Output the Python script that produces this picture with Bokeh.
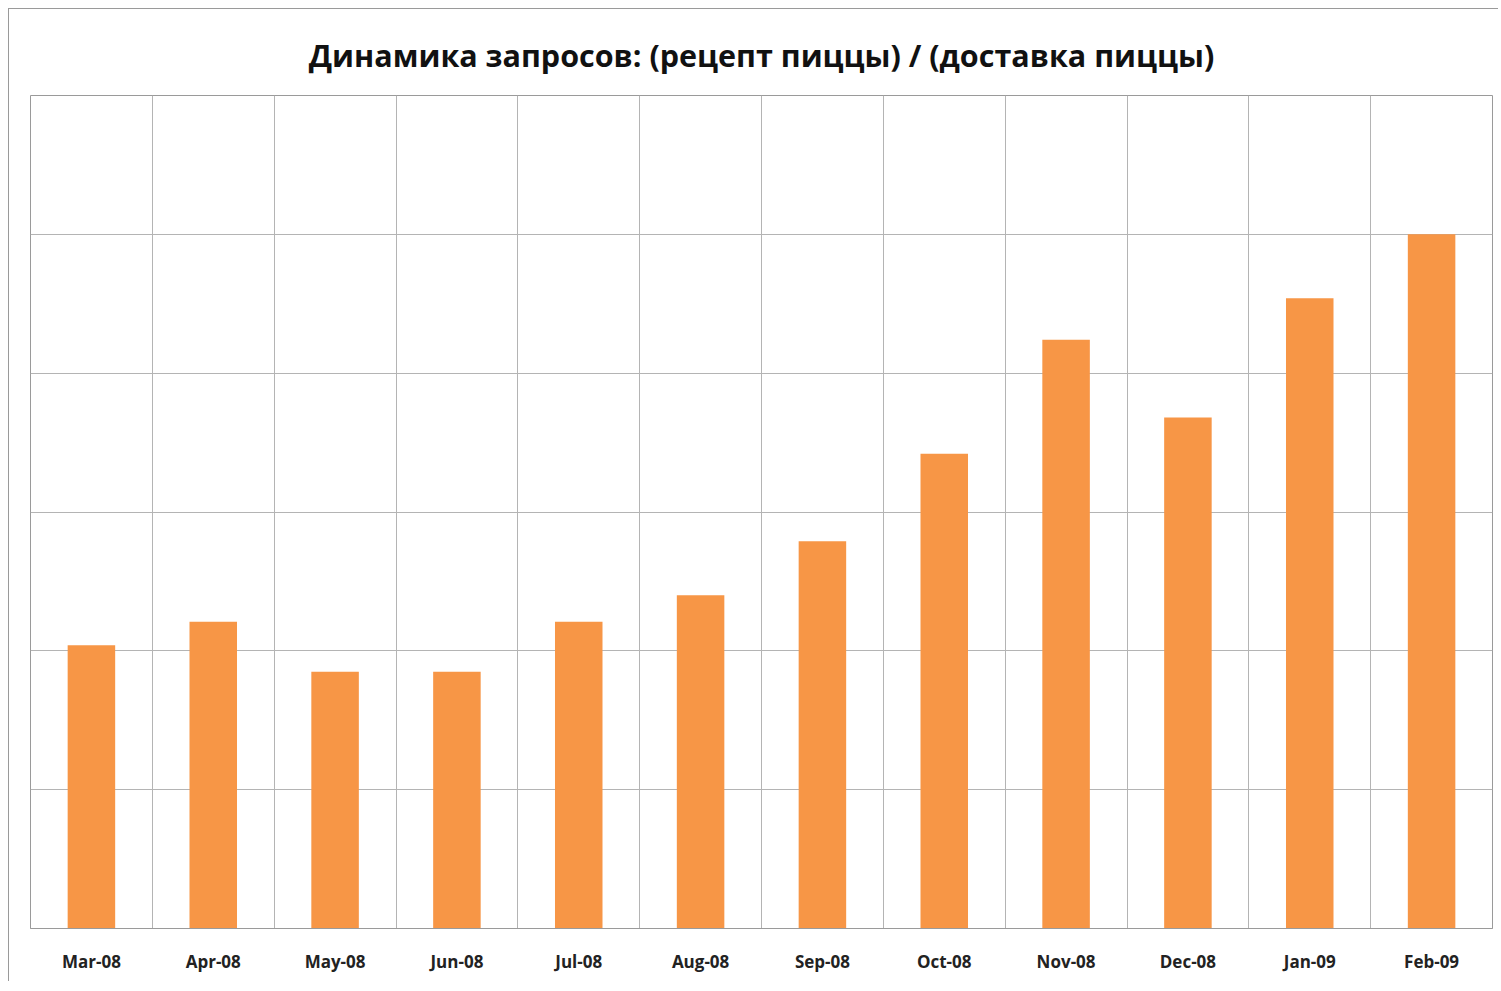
import numpy as np
from bokeh.plotting import figure
from bokeh.models import Range1d, FixedTicker, ColumnDataSource
from bokeh.embed import file_html
from bokeh.resources import INLINE

months = ["Mar-08", "Apr-08", "May-08", "Jun-08", "Jul-08", "Aug-08",
          "Sep-08", "Oct-08", "Nov-08", "Dec-08", "Jan-09", "Feb-09"]
values = [2.04, 2.21, 1.85, 1.85, 2.21, 2.40, 2.79, 3.42, 4.24, 3.68, 4.54, 5.00]
title_text = "Динамика запросов: (рецепт пиццы) / (доставка пиццы)"

n = len(months)
ymax = 6
xc = [i + 0.5 for i in range(n)]
src = ColumnDataSource(dict(x=xc, top=values, month=months))

p = figure(width=1490, height=973, output_backend="svg", toolbar_location=None,
           x_range=Range1d(0, n), y_range=Range1d(0, ymax),
           min_border_left=21, min_border_right=7, min_border_top=86, min_border_bottom=54,
           title=title_text,
           styles={"border-left": "1px solid #9a9a9a", "border-top": "1px solid #9a9a9a",
                   "margin-left": "8px", "margin-top": "8px"})

p.title.align = "center"
p.title.text_font = "Open Sans"
p.title.text_font_size = "30.5px"
p.title.text_font_style = "bold"
p.title.text_color = "#111111"
p.title.offset = 0
p.title.standoff = 40

p.vbar(x="x", top="top", width=0.39, bottom=0, source=src,
       fill_color="#F79646", line_color=None)

p.xaxis.ticker = FixedTicker(ticks=xc)
p.xaxis.major_label_overrides = {x: m for x, m in zip(xc, months)}
p.xaxis.major_tick_line_color = None
p.xaxis.minor_tick_line_color = None
p.xaxis.axis_line_color = "#9a9a9a"
p.xaxis.major_label_text_font = "Open Sans"
p.xaxis.major_label_text_font_size = "17px"
p.xaxis.major_label_text_font_style = "bold"
p.xaxis.major_label_text_color = "#222222"
p.xaxis.major_label_standoff = 15

p.yaxis.visible = False

p.xgrid.ticker = FixedTicker(ticks=list(range(n + 1)))
p.ygrid.ticker = FixedTicker(ticks=list(range(ymax + 1)))
p.xgrid.grid_line_color = "#b4b4b4"
p.ygrid.grid_line_color = "#b4b4b4"
p.xgrid.grid_line_width = 1
p.ygrid.grid_line_width = 1
p.outline_line_color = "#9a9a9a"

open("out.html", "w").write(file_html(p, INLINE))
